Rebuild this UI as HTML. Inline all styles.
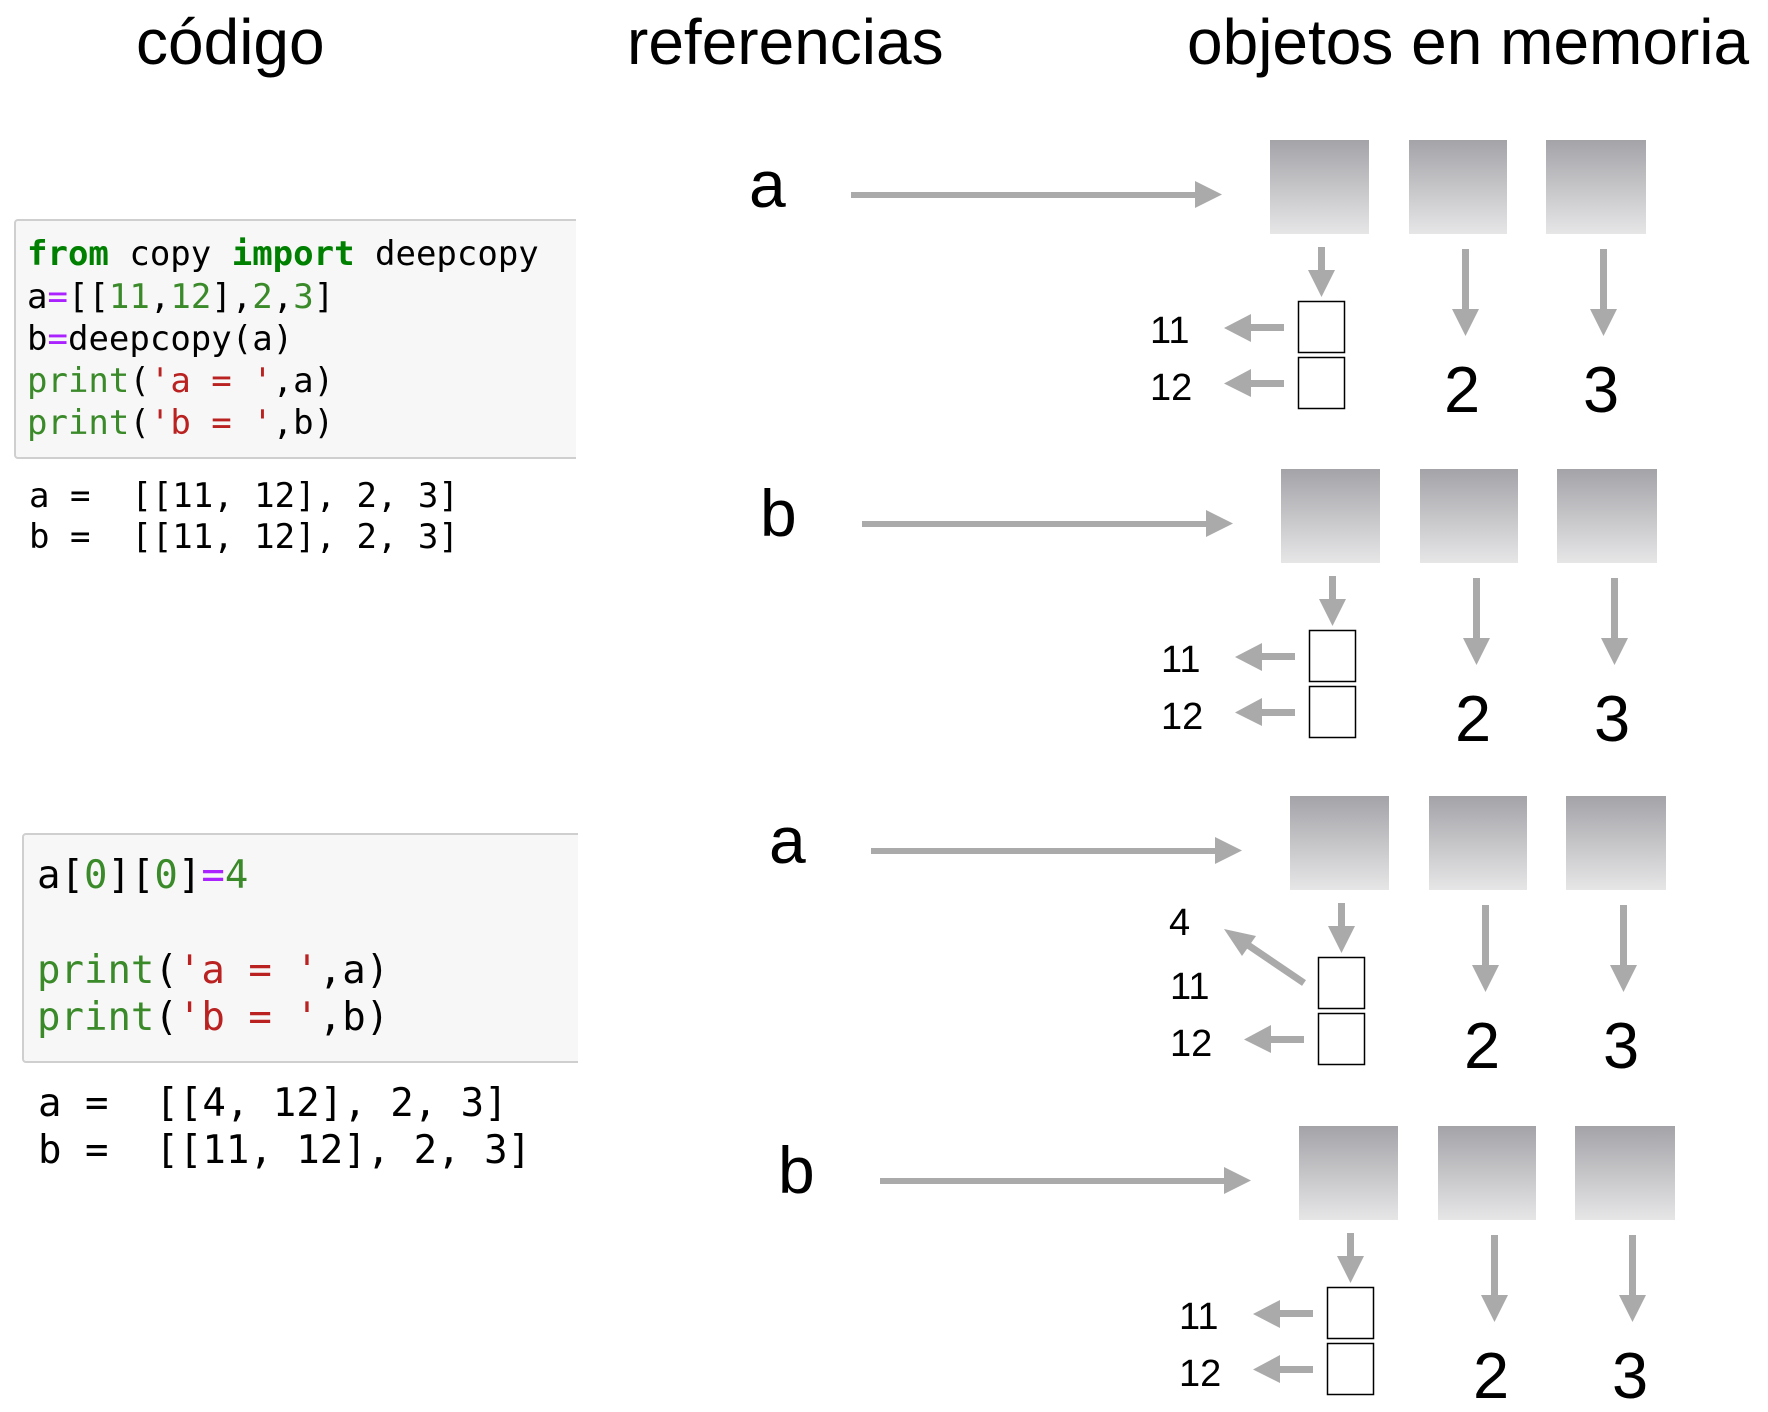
<!DOCTYPE html>
<html><head><meta charset="utf-8"><style>
html,body{margin:0;padding:0;background:#fff;}
svg{display:block;}
.t{font-family:"Liberation Sans",Arial,sans-serif;fill:#000;}
.m{font-family:"DejaVu Sans Mono","Liberation Mono",monospace;white-space:pre;}
.m text{white-space:pre;}
</style></head><body>
<svg width="1768" height="1412" viewBox="0 0 1768 1412" xmlns="http://www.w3.org/2000/svg">
<defs>
<linearGradient id="g" x1="0" y1="0" x2="0" y2="1">
<stop offset="0" stop-color="#a4a3a8"/><stop offset="1" stop-color="#e6e6e7"/>
</linearGradient>
<g id="base">
<rect x="851" y="192" width="345" height="6" fill="#aaa"/>
<polygon points="1195,181 1222,194.5 1195,208" fill="#aaa"/>
<rect x="1270" y="140" width="99" height="94" fill="url(#g)"/>
<rect x="1409" y="140" width="98" height="94" fill="url(#g)"/>
<rect x="1546" y="140" width="100" height="94" fill="url(#g)"/>
<rect x="1318" y="247" width="7" height="24" fill="#aaa"/>
<polygon points="1308,270 1335,270 1321.5,297" fill="#aaa"/>
<rect x="1462" y="249" width="7" height="61" fill="#aaa"/>
<polygon points="1452,309 1479,309 1465.5,336" fill="#aaa"/>
<rect x="1600" y="249" width="7" height="61" fill="#aaa"/>
<polygon points="1590,309 1617,309 1603.5,336" fill="#aaa"/>
<rect x="1298.5" y="301.5" width="46" height="51" fill="#fff" stroke="#000" stroke-width="1.5"/>
<rect x="1298.5" y="357.5" width="46" height="51" fill="#fff" stroke="#000" stroke-width="1.5"/>
<rect x="1250" y="380" width="34" height="7" fill="#aaa"/>
<polygon points="1251,369 1224,383.5 1251,397" fill="#aaa"/>
<text class="t" x="1150" y="400" font-size="38">12</text>
<text class="t" x="1444" y="412" font-size="65">2</text>
<text class="t" x="1583" y="412" font-size="65">3</text>
</g>
<g id="e11">
<rect x="1250" y="324" width="34" height="7" fill="#aaa"/>
<polygon points="1251,314 1224,328 1251,342" fill="#aaa"/>
<text class="t" x="1150" y="343" font-size="38">11</text>
</g>
</defs>

<text class="t" x="136" y="64" font-size="64">código</text>
<text class="t" x="627" y="64" font-size="64">referencias</text>
<text class="t" x="1187" y="64" font-size="64">objetos en memoria</text>

<!-- code box 1 -->
<rect x="15" y="220" width="575" height="238" rx="3" fill="#f7f7f7" stroke="#cfcfcf" stroke-width="2"/>
<rect x="576" y="215" width="40" height="250" fill="#fff"/>
<g class="m" font-size="34">
<text x="27" y="265"><tspan fill="#008000" font-weight="bold">from</tspan><tspan fill="#000"> copy </tspan><tspan fill="#008000" font-weight="bold">import</tspan><tspan fill="#000"> deepcopy</tspan></text>
<text x="27" y="308"><tspan fill="#000">a</tspan><tspan fill="#aa22ff">=</tspan><tspan fill="#000">[[</tspan><tspan fill="#3a8a2a">11</tspan><tspan fill="#000">,</tspan><tspan fill="#3a8a2a">12</tspan><tspan fill="#000">],</tspan><tspan fill="#3a8a2a">2</tspan><tspan fill="#000">,</tspan><tspan fill="#3a8a2a">3</tspan><tspan fill="#000">]</tspan></text>
<text x="27" y="350"><tspan fill="#000">b</tspan><tspan fill="#aa22ff">=</tspan><tspan fill="#000">deepcopy(a)</tspan></text>
<text x="27" y="392"><tspan fill="#3a8a2a">print</tspan><tspan fill="#000">(</tspan><tspan fill="#ba2121">'a = '</tspan><tspan fill="#000">,a)</tspan></text>
<text x="27" y="434"><tspan fill="#3a8a2a">print</tspan><tspan fill="#000">(</tspan><tspan fill="#ba2121">'b = '</tspan><tspan fill="#000">,b)</tspan></text>
<text x="29" y="507" fill="#000">a =  [[11, 12], 2, 3]</text>
<text x="29" y="548" fill="#000">b =  [[11, 12], 2, 3]</text>
</g>

<!-- code box 2 -->
<rect x="23" y="834" width="575" height="228" rx="3" fill="#f7f7f7" stroke="#cfcfcf" stroke-width="2"/>
<rect x="578" y="828" width="40" height="240" fill="#fff"/>
<g class="m" font-size="39">
<text x="37" y="888"><tspan fill="#000">a[</tspan><tspan fill="#3a8a2a">0</tspan><tspan fill="#000">][</tspan><tspan fill="#3a8a2a">0</tspan><tspan fill="#000">]</tspan><tspan fill="#aa22ff">=</tspan><tspan fill="#3a8a2a">4</tspan></text>
<text x="37" y="983"><tspan fill="#3a8a2a">print</tspan><tspan fill="#000">(</tspan><tspan fill="#ba2121">'a = '</tspan><tspan fill="#000">,a)</tspan></text>
<text x="37" y="1030"><tspan fill="#3a8a2a">print</tspan><tspan fill="#000">(</tspan><tspan fill="#ba2121">'b = '</tspan><tspan fill="#000">,b)</tspan></text>
<text x="38" y="1116" fill="#000">a =  [[4, 12], 2, 3]</text>
<text x="38" y="1163" fill="#000">b =  [[11, 12], 2, 3]</text>
</g>

<!-- section 1 -->
<g>
<use href="#base"/><use href="#e11"/>
<text class="t" x="749" y="207" font-size="66">a</text>
</g>
<!-- section 2 -->
<g transform="translate(11,329)">
<use href="#base"/><use href="#e11"/>
<text class="t" x="749" y="207" font-size="66">b</text>
</g>
<!-- section 3 -->
<g transform="translate(20,656)">
<use href="#base"/>
<text class="t" x="749" y="207" font-size="66">a</text>
<text class="t" x="1150" y="343" font-size="38">11</text>
<text class="t" x="1149" y="279" font-size="38">4</text>
<line x1="1284" y1="327" x2="1222" y2="285" stroke="#aaa" stroke-width="7"/>
<polygon points="1204,273 1236,280 1222,300" fill="#aaa"/>
</g>
<!-- section 4 -->
<g transform="translate(29,986)">
<use href="#base"/><use href="#e11"/>
<text class="t" x="749" y="207" font-size="66">b</text>
</g>
</svg>
</body></html>
